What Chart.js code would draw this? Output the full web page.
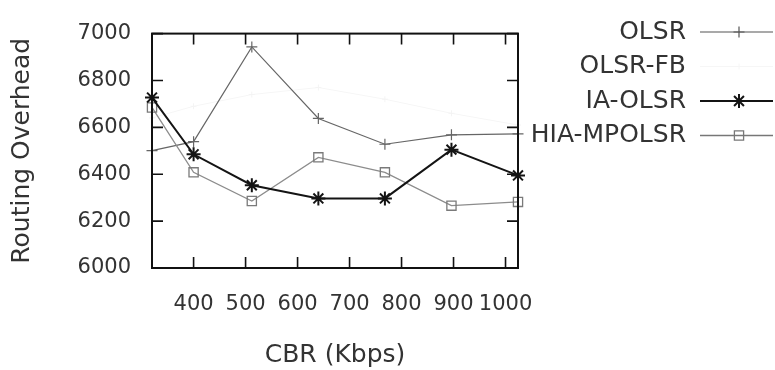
<!DOCTYPE html>
<html>
<head>
<meta charset="utf-8">
<title>Routing Overhead vs CBR</title>
<script src="https://cdn.jsdelivr.net/npm/chart.js"></script>
<style>
  html, body { margin: 0; padding: 0; background: #fff; }
</style>
</head>
<body>
<canvas id="chart" width="775" height="370"></canvas>
<script>
// data
const cbr = [320, 400, 512, 640, 768, 896, 1024];
const olsr = [6501, 6539, 6943, 6638, 6528, 6568, 6572];
const olsrFb = [6640, 6690, 6740, 6770, 6720, 6660, 6610];
const iaOlsr = [6727, 6485, 6353, 6297, 6297, 6505, 6395];
const hiaMpolsr = [6685, 6408, 6286, 6472, 6408, 6266, 6282];
const xTicks = [400, 500, 600, 700, 800, 900, 1000];
const yTicks = [6000, 6200, 6400, 6600, 6800, 7000];

const FONT = "'DejaVu Sans', Verdana, sans-serif";
const TEXT = '#333';

const pts = ys => cbr.map((x, i) => ({ x: x, y: ys[i] }));

// gnuplot-like frame with inward ticks on all four sides
const framePlugin = {
    id: 'frame',
    afterDatasetsDraw(chart) {
        const { ctx, chartArea: a, scales } = chart;
        const len = 11;
        ctx.save();
        ctx.strokeStyle = '#111';
        ctx.lineWidth = 2;
        ctx.strokeRect(a.left, a.top, a.right - a.left, a.bottom - a.top);
        ctx.lineWidth = 1.6;
        ctx.beginPath();
        xTicks.forEach(v => {
            const px = scales.x.getPixelForValue(v);
            ctx.moveTo(px, a.bottom); ctx.lineTo(px, a.bottom - len);
            ctx.moveTo(px, a.top); ctx.lineTo(px, a.top + len);
        });
        yTicks.forEach(v => {
            const py = scales.y.getPixelForValue(v);
            ctx.moveTo(a.left, py); ctx.lineTo(a.left + len, py);
            ctx.moveTo(a.right, py); ctx.lineTo(a.right - len, py);
        });
        ctx.stroke();
        ctx.restore();
    }
};

function marker(ctx, style, x, y, r) {
    ctx.beginPath();
    if (style === 'cross' || style === 'star') {
        ctx.moveTo(x - r, y); ctx.lineTo(x + r, y);
        ctx.moveTo(x, y - r); ctx.lineTo(x, y + r);
    }
    if (style === 'star') {
        const d = r * Math.SQRT1_2;
        ctx.moveTo(x - d, y - d); ctx.lineTo(x + d, y + d);
        ctx.moveTo(x - d, y + d); ctx.lineTo(x + d, y - d);
    }
    if (style === 'rect') {
        const s = r * Math.SQRT1_2;
        ctx.rect(x - s, y - s, 2 * s, 2 * s);
    }
    ctx.stroke();
}

// legend outside the plot, text right-aligned, sample line to the right
const legendPlugin = {
    id: 'sideLegend',
    afterDraw(chart) {
        const ctx = chart.ctx;
        const textRight = 686, lineL = 700, lineR = 773, mark = 739;
        ctx.save();
        ctx.font = '25px ' + FONT;
        ctx.textAlign = 'right';
        ctx.textBaseline = 'middle';
        chart.data.datasets.forEach((ds, i) => {
            const y = 32 + i * 34.5;
            ctx.fillStyle = TEXT;
            ctx.fillText(ds.label, textRight, y);
            ctx.strokeStyle = ds.legendColor || ds.borderColor;
            ctx.lineWidth = ds.borderWidth;
            ctx.beginPath();
            ctx.moveTo(lineL, y); ctx.lineTo(lineR, y);
            ctx.stroke();
            marker(ctx, ds.pointStyle, mark, y, ds.pointRadius);
        });
        ctx.restore();
    }
};

const common = {
    fill: false,
    tension: 0,
    clip: false,
    pointBackgroundColor: 'rgba(0,0,0,0)'
};

new Chart(document.getElementById('chart'), {
    type: 'line',
    data: {
        datasets: [
            Object.assign({}, common, {
                label: 'OLSR', data: pts(olsr),
                borderColor: '#666', borderWidth: 1.2, legendColor: '#555',
                pointStyle: 'cross', pointRadius: 5.5, pointBorderColor: '#666', pointBorderWidth: 1.2,
                order: 3
            }),
            Object.assign({}, common, {
                label: 'OLSR-FB', data: pts(olsrFb),
                borderColor: '#f6f6f6', borderWidth: 1,
                pointStyle: 'cross', pointRadius: 3, pointBorderColor: '#f4f4f4', pointBorderWidth: 1,
                order: 4
            }),
            Object.assign({}, common, {
                label: 'IA-OLSR', data: pts(iaOlsr),
                borderColor: '#141414', borderWidth: 2,
                pointStyle: 'star', pointRadius: 7, pointBorderColor: '#141414', pointBorderWidth: 2,
                order: 1
            }),
            Object.assign({}, common, {
                label: 'HIA-MPOLSR', data: pts(hiaMpolsr),
                borderColor: '#8c8c8c', borderWidth: 1.3, legendColor: '#777',
                pointStyle: 'rect', pointRadius: 6.5, pointBorderColor: '#7a7a7a', pointBorderWidth: 1.3,
                order: 2
            })
        ]
    },
    options: {
        responsive: false,
        devicePixelRatio: 1,
        animation: false,
        layout: { padding: { top: 17, right: 257, left: 0, bottom: 0 } },
        plugins: { legend: { display: false }, tooltip: { enabled: false } },
        scales: {
            x: {
                type: 'linear',
                min: 320,
                max: 1024,
                afterBuildTicks: s => { s.ticks = xTicks.map(v => ({ value: v })); },
                afterFit: s => { s.height = 102; },
                grid: { display: false, drawTicks: false },
                border: { display: false },
                ticks: {
                    autoSkip: false, maxRotation: 0, padding: 24,
                    color: TEXT, font: { family: FONT, size: 21 },
                    callback: v => String(v)
                },
                title: {
                    display: true, text: 'CBR (Kbps)', color: TEXT,
                    font: { family: FONT, size: 25 }, padding: { top: 0, bottom: 0 }
                }
            },
            y: {
                min: 6000,
                max: 7000,
                afterBuildTicks: s => { s.ticks = yTicks.map(v => ({ value: v })); },
                afterFit: s => { s.width = 152; },
                grid: { display: false, drawTicks: false },
                border: { display: false },
                ticks: {
                    padding: 21, color: TEXT, font: { family: FONT, size: 21 },
                    callback: v => String(v)
                },
                title: {
                    display: true, text: 'Routing Overhead', color: TEXT,
                    font: { family: FONT, size: 25 }, padding: { top: 7, bottom: 0 }
                }
            }
        }
    },
    plugins: [framePlugin, legendPlugin]
});
</script>
</body>
</html>
